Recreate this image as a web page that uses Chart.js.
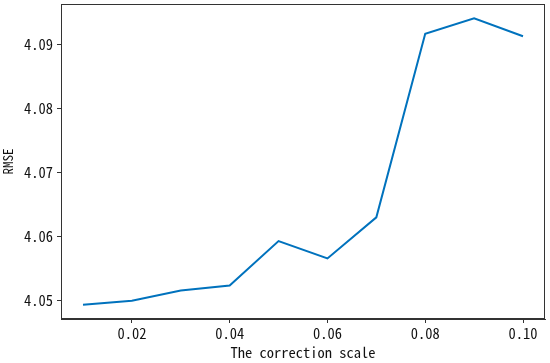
<!DOCTYPE html>
<html lang="en">
<head>
<meta charset="UTF-8">
<title>RMSE vs correction scale</title>
<script src="https://cdn.jsdelivr.net/npm/chart.js"></script>
<style>
  html, body { margin: 0; padding: 0; background: #fff; }
  #wrap { width: 550px; height: 363px; }
</style>
</head>
<body>
<div id="wrap"><canvas id="myChart" width="550" height="363"></canvas></div>
<script>
// values
const scales = [0.01, 0.02, 0.03, 0.04, 0.05, 0.06, 0.07, 0.08, 0.09, 0.10];
const rmse = [4.0494, 4.0500, 4.0516, 4.0524, 4.0593, 4.0566, 4.0630, 4.0916, 4.0940, 4.0912];
const xTicks = [0.02, 0.04, 0.06, 0.08, 0.10];
const yTicks = [4.05, 4.06, 4.07, 4.08, 4.09];

const FONT = '"Noto Sans Mono CJK SC", "DejaVu Sans Mono", monospace';
const axisColor = '#333333';

// box around plot area (top and right edges)
const frame = {
    id: 'frame',
    afterDraw(chart) {
        const { ctx, chartArea: a } = chart;
        ctx.save();
        ctx.strokeStyle = axisColor;
        ctx.lineWidth = 1;
        ctx.strokeRect(a.left + 0.5, a.top + 0.5, a.right - a.left - 1, a.bottom - a.top - 1);
        ctx.restore();
    }
};

const ctx = document.getElementById('myChart').getContext('2d');
new Chart(ctx, {
    type: 'line',
    data: {
        datasets: [{
            data: scales.map((s, i) => ({ x: s, y: rmse[i] })),
            borderColor: '#0072bd',
            borderWidth: 2,
            pointRadius: 0,
            tension: 0,
            fill: false
        }]
    },
    options: {
        responsive: false,
        animation: false,
        events: [],
        layout: { padding: { left: 0, right: 5, top: 4, bottom: 0 } },
        plugins: { legend: { display: false }, tooltip: { enabled: false } },
        scales: {
            x: {
                type: 'linear',
                min: 0.0055,
                max: 0.1045,
                afterBuildTicks: (s) => { s.ticks = xTicks.map(v => ({ value: v })); },
                afterFit: (s) => { s.height = 44; s.paddingLeft = 0; s.paddingRight = 0; },
                grid: { display: true, drawOnChartArea: false, drawTicks: true, tickLength: 4, color: axisColor },
                border: { color: axisColor, width: 1 },
                ticks: {
                    color: '#111',
                    font: { family: FONT, size: 14.5 },
                    padding: 2,
                    maxRotation: 0,
                    callback: (v) => v.toFixed(2)
                },
                title: {
                    display: true,
                    text: 'The correction scale',
                    color: '#111',
                    font: { family: FONT, size: 14.5 },
                    padding: { top: 0, bottom: 2 }
                }
            },
            y: {
                min: 4.04717,
                max: 4.09623,
                afterBuildTicks: (s) => { s.ticks = yTicks.map(v => ({ value: v })); },
                afterFit: (s) => { s.width = 61; s.paddingTop = 0; s.paddingBottom = 0; },
                grid: { display: true, drawOnChartArea: false, drawTicks: true, tickLength: 4, color: axisColor },
                border: { color: axisColor, width: 1 },
                ticks: {
                    color: '#111',
                    font: { family: FONT, size: 14.5 },
                    padding: 4,
                    callback: (v) => v.toFixed(2)
                },
                title: {
                    display: true,
                    text: 'RMSE',
                    color: '#111',
                    font: { family: FONT, size: 13 },
                    padding: { top: 0, bottom: 0 }
                }
            }
        }
    },
    plugins: [frame]
});
</script>
</body>
</html>
